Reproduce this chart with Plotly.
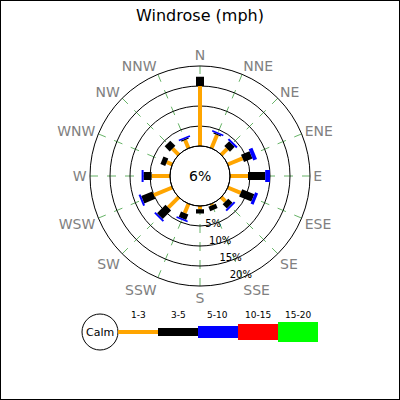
import numpy as np
import plotly.graph_objects as go

# arah mata angin (16 sektor)
directions = ["N", "NNE", "NE", "ENE", "E", "ESE", "SE", "SSE",
              "S", "SSW", "SW", "WSW", "W", "WNW", "NW", "NNW"]

# frekuensi (%) tiap kelas kecepatan per arah
spd_1_3 = [15.0, 3.6, 2.1, 4.0, 4.5, 3.5, 1.5, 0.4, 0.8, 2.5, 3.7, 5.0, 4.6, 1.5, 2.2, 2.2]
spd_3_5 = [2.3, 0.3, 1.7, 2.3, 4.3, 3.3, 1.5, 1.2, 1.1, 1.5, 3.0, 3.0, 2.0, 1.3, 1.8, 0.3]
spd_5_10 = [0.0, 0.4, 0.5, 1.0, 1.2, 0.8, 0.5, 0.0, 0.0, 0.4, 0.5, 0.5, 0.5, 0.0, 0.0, 0.4]
spd_10_15 = [0, 0, 0, 0, 0, 0, 0, 0, 0, 0, 0, 0, 0, 0, 0, 0]
spd_15_20 = [0, 0, 0, 0, 0, 0, 0, 0, 0, 0, 0, 0, 0, 0, 0, 0]

bin_labels = ["1-3", "3-5", "5-10", "10-15", "15-20"]
calm_pct = 6
radial_ticks = [5, 10, 15, 20]

colors = ["orange", "black", "blue", "red", "lime"]
widths = [4, 8, 12, 16, 20]

fig = go.Figure()

# --------- batang bertumpuk (garis tebal radial) ---------
bins = [spd_1_3, spd_3_5, spd_5_10, spd_10_15, spd_15_20]
base = np.zeros(len(directions))
for vals, col, w in zip(bins, colors, widths):
    vals = np.array(vals, dtype=float)
    r, th = [], []
    for d, lo, v in zip(directions, base, vals):
        if v > 0:
            r += [lo, lo + v, None]
            th += [d, d, None]
    base = base + vals
    if r:
        fig.add_trace(go.Scatterpolar(
            r=r, theta=th, mode="lines",
            line=dict(color=col, width=w),
            hoverinfo="skip", showlegend=False
        ))

fig.update_layout(
    width=400, height=400,
    margin=dict(l=0, r=0, t=0, b=0),
    paper_bgcolor="white",
    font=dict(family="DejaVu Sans", color="black"),
    showlegend=False,
    title=dict(text="Windrose (mph)", x=0.5, y=0.962, xanchor="center",
               yanchor="middle", font=dict(size=16, color="black")),
    polar=dict(
        domain=dict(x=[0.225, 0.775], y=[0.285, 0.835]),
        hole=30 / 110,
        bgcolor="white",
        radialaxis=dict(range=[0, 20], tickmode="array", tickvals=radial_ticks,
                        ticktext=[f"{v}%" for v in radial_ticks],
                        showline=False, ticks="", gridcolor="black", gridwidth=1,
                        angle=-59, tickangle=-59,
                        tickfont=dict(size=10, color="black")),
        angularaxis=dict(direction="clockwise", rotation=90,
                         categoryarray=directions, categoryorder="array",
                         showline=True, linecolor="black", linewidth=1,
                         gridcolor="rgba(0,128,0,0.6)", griddash="dash", gridwidth=0.8,
                         ticks="", tickfont=dict(size=14, color="gray")),
    ),
)

# lingkaran calm di tengah
fig.add_shape(type="circle", xref="paper", yref="paper",
              x0=170 / 400, x1=230 / 400, y0=1 - 206 / 400, y1=1 - 146 / 400,
              line=dict(color="black", width=1))
fig.add_annotation(text=f"{calm_pct}%", x=0.5, y=1 - 176 / 400, xref="paper", yref="paper",
                   xanchor="center", yanchor="middle",
                   showarrow=False, font=dict(size=14, color="black"))

# --------- legenda buatan ---------
leg_y = 1 - 332 / 400
fig.add_shape(type="circle", xref="paper", yref="paper",
              x0=82 / 400, x1=118 / 400, y0=leg_y - 18 / 400, y1=leg_y + 18 / 400,
              line=dict(color="black", width=1), fillcolor="white")
fig.add_annotation(text="Calm", x=100 / 400, y=leg_y, xref="paper", yref="paper",
                   xanchor="center", yanchor="middle",
                   showarrow=False, font=dict(size=11, color="black"))
x_start = 118
seg = 40
for i, (lab, col, w) in enumerate(zip(bin_labels, colors, widths)):
    x0 = (x_start + i * seg) / 400
    x1 = (x_start + (i + 1) * seg) / 400
    fig.add_shape(type="rect", xref="paper", yref="paper",
                  x0=x0, x1=x1, y0=leg_y - w / 2 / 400, y1=leg_y + w / 2 / 400,
                  line=dict(width=0), fillcolor=col)
    fig.add_annotation(text=lab, x=(x0 + x1) / 2, y=1 - 315 / 400, xref="paper", yref="paper",
                       xanchor="center", yanchor="middle",
                       showarrow=False, font=dict(size=9, color="black"))

# bingkai luar
fig.add_shape(type="rect", xref="paper", yref="paper", x0=0, x1=1, y0=0, y1=1,
              line=dict(color="black", width=2))

fig.write_html("out.html", config={"displayModeBar": False},
               post_script="document.body.style.margin='0';")
